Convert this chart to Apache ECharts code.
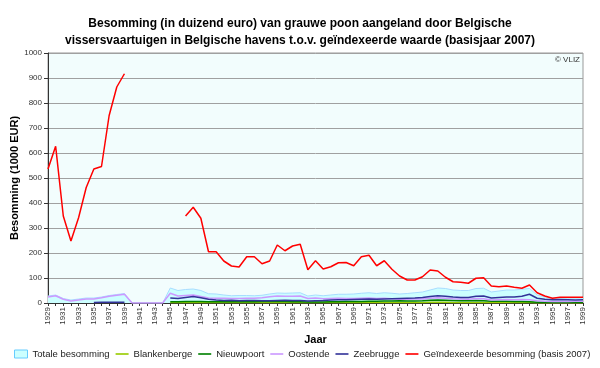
<!DOCTYPE html>
<html>
<head>
<meta charset="utf-8">
<script src="https://cdn.jsdelivr.net/npm/echarts@6/dist/echarts.min.js"></script>
<style>html,body{margin:0;padding:0;background:#fff}#c{width:600px;height:368px}</style>
</head>
<body>
<div id="c"></div>
<script>
var years = [];
for (var y = 1929; y <= 1999; y++) years.push(String(y));

var titleText = 'Besomming (in duizend euro) van grauwe poon aangeland door Belgische\nvissersvaartuigen in Belgische havens t.o.v. geïndexeerde waarde (basisjaar 2007)';
var seriesNames = ['Totale besomming', 'Blankenberge', 'Nieuwpoort', 'Oostende', 'Zeebrugge', 'Geïndexeerde besomming (basis 2007)'];

var totale = [28,32,18,12,16,20,20,24,30,34,38, 0,0,0,0,0,
  60,50,54,56,50,37,36,32,29,30,30,29,31,36,40,39,40,41,28,32,29,32,35,35,36,39,41,38,41,39,36,38,41,44,52,60,58,52,50,50,58,59,44,48,52,52,55,58,32,24,20,21,20,20,21];
var blankenberge = [null,null,null,null,null,null,null,null,null,null,null, null,null,null,null,null,
  2,2,2,2,2,2,2,2,2,2,2,2,2,2,2,2,2,2,2,2,2,2,2,2,2,2,2,2,2,2,2,2,2,2,3,3,3,2,2,2,2,2,2,2,2,2,2,2,1,1,1,1,1,1,1];
var nieuwpoort = [null,null,null,null,null,null,null,null,null,null,null, null,null,null,null,null,
  5,5,6,6,6,5,5,5,5,5,5,5,6,6,6,6,5,5,4,4,4,5,5,6,6,6,7,7,8,8,9,8,8,9,11,12,11,10,9,9,10,9,7,7,7,6,6,5,3,3,3,3,3,3,3];
var oostende = [24,29,15,8,12,16,16,21,27,31,35, 0,0,0,0,0,
  39,28,30,32,26,20,19,19,18,18,19,19,21,25,28,27,27,28,18,20,17,18,19,18,18,19,20,18,19,17,15,15,16,16,19,21,19,17,16,15,18,17,12,13,14,13,14,13,9,7,6,6,6,7,7];
var zeebrugge = [null,null,null,null,null,null,2,3,3,3,3, null,null,null,null,null,
  20,18,22,26,21,15,12,10,11,9,10,10,9,9,10,11,10,10,8,9,10,12,13,13,14,15,16,15,16,17,18,19,20,22,26,29,27,24,22,22,27,28,20,22,24,24,27,35,19,15,13,14,13,12,13];
var geindexeerd = [536,627,348,248,341,462,536,546,750,864,917, null,null,null,null,null,
  null,null,348,383,339,205,205,168,148,144,185,185,157,168,232,209,228,235,133,169,136,145,161,162,149,185,191,149,169,135,108,92,92,105,132,128,103,85,83,79,99,101,68,65,68,63,59,72,41,28,19,23,23,23,23];

var yTicks = {min: 0, max: 1000, interval: 100};

var font = 'Liberation Sans';
var lineIcon = 'path://M0,0h24v3h-24z';
function lineSeries(name, data, color, w) {
  return {
    name: name, type: 'line', data: data, symbol: 'none', connectNulls: false,
    lineStyle: {color: color, width: w}, itemStyle: {color: color}, z: 3
  };
}

var chart = echarts.init(document.getElementById('c'), null, {renderer: 'canvas'});
chart.setOption({
  animation: false,
  backgroundColor: '#ffffff',
  textStyle: {fontFamily: font},
  title: {
    text: titleText, left: 'center', top: 10,
    textStyle: {fontFamily: font, fontWeight: 'bold', fontSize: 12, color: '#000', lineHeight: 17}
  },
  graphic: [{
    type: 'text', right: 20, top: 56,
    style: {text: '© VLIZ', font: '8px "Liberation Sans"', fill: '#333'}
  }],
  grid: {left: 48, right: 17, top: 53, bottom: 65, outerBoundsMode: 'none', containLabel: false,
    show: true, backgroundColor: '#f2fdfd', borderColor: '#999', borderWidth: 1},
  legend: {
    bottom: 9, left: 14, right: 4, padding: 0, itemGap: 6, itemWidth: 13, itemHeight: 8,
    textStyle: {fontFamily: font, fontSize: 9.5, color: '#222'},
    data: [
      {name: seriesNames[0], icon: 'rect', itemStyle: {color: '#ccffff', borderColor: '#66ccff', borderWidth: 1}},
      {name: seriesNames[1], icon: lineIcon},
      {name: seriesNames[2], icon: lineIcon},
      {name: seriesNames[3], icon: lineIcon},
      {name: seriesNames[4], icon: lineIcon},
      {name: seriesNames[5], icon: lineIcon}
    ]
  },
  xAxis: {
    type: 'category', data: years, boundaryGap: false,
    name: 'Jaar', nameLocation: 'middle', nameGap: 31, nameMoveOverlap: false,
    nameTextStyle: {fontFamily: font, fontWeight: 'bold', fontSize: 11, color: '#000'},
    axisLine: {lineStyle: {color: '#333'}},
    axisTick: {interval: 0, length: 3, lineStyle: {color: '#333'}},
    axisLabel: {interval: 1, rotate: 90, fontSize: 8, color: '#333', margin: 4},
    splitLine: {show: false}
  },
  yAxis: {
    type: 'value', min: yTicks.min, max: yTicks.max, interval: yTicks.interval,
    name: 'Besomming (1000 EUR)', nameLocation: 'middle', nameGap: 28, nameMoveOverlap: false,
    nameTextStyle: {fontFamily: font, fontWeight: 'bold', fontSize: 11, color: '#000'},
    axisLine: {show: true, lineStyle: {color: '#333'}},
    axisTick: {show: true, length: 4, lineStyle: {color: '#333'}},
    axisLabel: {fontSize: 8, color: '#333', margin: 6, formatter: function (v) { return String(v); }},
    splitLine: {lineStyle: {color: '#a0a0a0', width: 1}}
  },
  series: [
    {
      name: seriesNames[0], type: 'line', data: totale, symbol: 'none',
      lineStyle: {color: '#a8dcff', width: 1}, itemStyle: {color: '#ccffff', borderColor: '#66ccff'},
      areaStyle: {color: '#ccffff', opacity: 1}, z: 2
    },
    lineSeries(seriesNames[1], blankenberge, '#99cc00', 1.5),
    lineSeries(seriesNames[2], nieuwpoort, '#008000', 1.5),
    lineSeries(seriesNames[3], oostende, '#cc99ff', 1.5),
    lineSeries(seriesNames[4], zeebrugge, '#333399', 1.5),
    lineSeries(seriesNames[5], geindexeerd, '#ff0000', 1.5)
  ]
});
</script>
</body>
</html>
